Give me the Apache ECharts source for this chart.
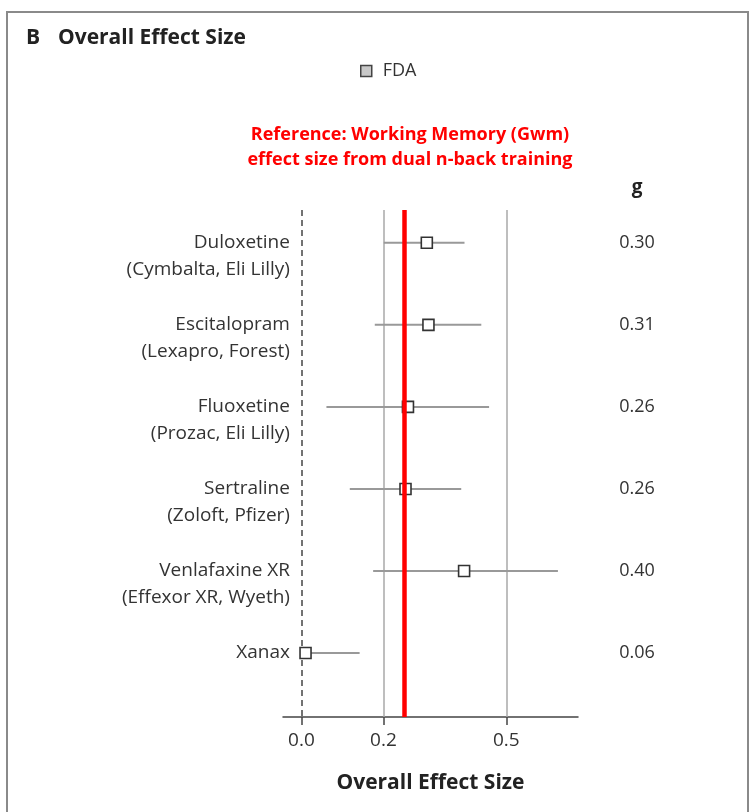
<!DOCTYPE html>
<html>
<head>
<meta charset="utf-8">
<script src="https://cdn.jsdelivr.net/npm/echarts@6/dist/echarts.min.js"></script>
<style>
  html, body { margin: 0; padding: 0; background: #fff; }
  #chart { width: 755px; height: 812px; }
</style>
</head>
<body>
<div id="chart"></div>
<script>
const drugs = ['Duloxetine', 'Escitalopram', 'Fluoxetine', 'Sertraline', 'Venlafaxine XR', 'Xanax']
const makers = ['(Cymbalta, Eli Lilly)', '(Lexapro, Forest)', '(Prozac, Eli Lilly)', '(Zoloft, Pfizer)', '(Effexor XR, Wyeth)', '']
const estimates = [0.306, 0.310, 0.260, 0.254, 0.397, 0.010]
const lower = [0.201, 0.179, 0.061, 0.118, 0.175, 0.000]
const upper = [0.398, 0.439, 0.458, 0.390, 0.626, 0.142]
const gLabels = ['0.30', '0.31', '0.26', '0.26', '0.40', '0.06']
const xTicks = [0, 0.2, 0.5]
const gridLines = [0.2, 0.5]
const refEffect = 0.248

const FONT = '"Open Sans", "DejaVu Sans", sans-serif'
const rows = drugs.map((d, i) => i)

const chart = echarts.init(document.getElementById('chart'))

const option = {
  backgroundColor: '#fff',
  animation: false,
  textStyle: { fontFamily: FONT },
  graphic: [
    { // frame
      type: 'rect',
      silent: true,
      shape: { x: 7, y: 12, width: 741, height: 830 },
      style: { fill: 'none', stroke: '#8a8a8a', lineWidth: 2 }
    },
    {
      type: 'text', x: 26, y: 38,
      style: { text: 'B', font: 'bold 21px ' + FONT, fill: '#222', textVerticalAlign: 'middle' }
    },
    {
      type: 'text', x: 58, y: 38,
      style: { text: 'Overall Effect Size', font: 'bold 21px ' + FONT, fill: '#222', textVerticalAlign: 'middle' }
    },
    {
      type: 'text', x: 410, y: 135,
      style: { text: 'Reference: Working Memory (Gwm)', font: 'bold 18px ' + FONT, fill: '#ff0000', textAlign: 'center', textVerticalAlign: 'middle' }
    },
    {
      type: 'text', x: 410, y: 160,
      style: { text: 'effect size from dual n-back training', font: 'bold 18px ' + FONT, fill: '#ff0000', textAlign: 'center', textVerticalAlign: 'middle' }
    },
    {
      type: 'text', x: 637, y: 188,
      style: { text: 'g', font: 'bold 19px ' + FONT, fill: '#222', textAlign: 'center', textVerticalAlign: 'middle' }
    }
  ],
  legend: {
    data: [{ name: 'FDA', icon: 'rect' }],
    left: 360,
    top: 62,
    padding: 0,
    itemWidth: 11,
    itemHeight: 11,
    selectedMode: false,
    itemStyle: { color: '#c8c8c8', borderColor: '#444', borderWidth: 1.5 },
    textStyle: { fontSize: 18, color: '#333', padding: [0, 0, 0, 6] }
  },
  grid: {
    left: 283,
    right: 177,
    top: 210,
    bottom: 95
  },
  xAxis: {
    type: 'value',
    min: -0.045,
    max: 0.675,
    name: 'Overall Effect Size',
    nameLocation: 'middle',
    nameGap: 56,
    nameTextStyle: { fontSize: 21, fontWeight: 'bold', color: '#222' },
    axisLine: { onZero: false, lineStyle: { color: '#444', width: 1.5 } },
    axisTick: { customValues: xTicks, length: 8, lineStyle: { color: '#444', width: 1.5 } },
    axisLabel: {
      customValues: xTicks,
      margin: 14,
      fontSize: 19,
      color: '#333',
      formatter: v => v.toFixed(1)
    },
    splitLine: { show: false }
  },
  yAxis: [
    {
      type: 'value',
      inverse: true,
      min: -0.4,
      max: 5.78,
      show: false
    },
    {
      type: 'value',
      inverse: true,
      min: -0.4,
      max: 5.78,
      position: 'right',
      axisLine: { show: false },
      axisTick: { show: false },
      splitLine: { show: false },
      axisLabel: {
        customValues: rows,
        margin: 59,
        align: 'center',
        fontSize: 18,
        color: '#333',
        formatter: v => gLabels[Math.round(v)]
      }
    }
  ],
  series: [
    { // vertical guide lines
      type: 'line',
      data: [],
      z: 1,
      markLine: {
        silent: true,
        symbol: 'none',
        z: 1,
        label: { show: false },
        data: [
          { xAxis: 0, lineStyle: { color: '#444', width: 1.5, type: [6, 4] } },
          ...gridLines.map(v => ({ xAxis: v, lineStyle: { color: '#a8a8a8', width: 1.5, type: 'solid' } }))
        ]
      }
    },
    { // confidence intervals
      type: 'custom',
      z: 2,
      silent: true,
      data: rows.map(i => [lower[i], upper[i], i]),
      renderItem: (params, api) => {
        const a = api.coord([api.value(0), api.value(2)])
        const b = api.coord([api.value(1), api.value(2)])
        return {
          type: 'line',
          shape: { x1: a[0], y1: a[1], x2: b[0], y2: b[1] },
          style: { stroke: '#999', lineWidth: 2 }
        }
      },
      encode: { x: [0, 1], y: 2 }
    },
    {
      name: 'FDA',
      type: 'scatter',
      z: 3,
      symbol: 'rect',
      symbolSize: 11,
      itemStyle: { color: '#fff', borderColor: '#333', borderWidth: 1.6, opacity: 1 },
      data: rows.map(i => [estimates[i], i])
    },
    { // drug name labels
      type: 'scatter',
      silent: true,
      symbolSize: 1,
      itemStyle: { color: 'transparent', opacity: 1 },
      data: rows.map(i => [0, i]),
      label: {
        show: true,
        position: 'left',
        distance: 11,
        align: 'right',
        verticalAlign: 'top',
        offset: [0, -13.5],
        fontSize: 19,
        lineHeight: 27,
        color: '#333',
        formatter: p => makers[p.dataIndex] ? drugs[p.dataIndex] + '\n' + makers[p.dataIndex] : drugs[p.dataIndex]
      }
    },
    { // reference line
      type: 'line',
      data: [],
      z: 10,
      markLine: {
        silent: true,
        symbol: 'none',
        z: 10,
        label: { show: false },
        data: [{ xAxis: refEffect }],
        lineStyle: { color: '#ff0000', width: 4.5, type: 'solid' }
      }
    }
  ]
}

chart.setOption(option)
</script>
</body>
</html>
